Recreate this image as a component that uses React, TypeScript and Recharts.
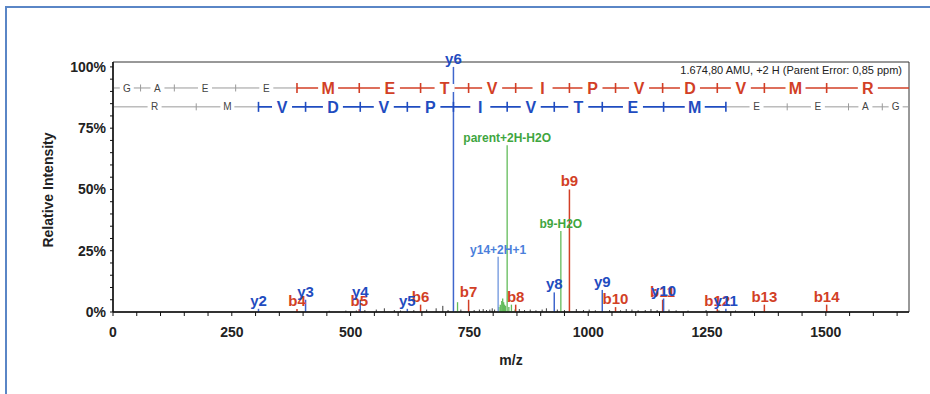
import React from "react";
import {
  ComposedChart,
  Scatter,
  XAxis,
  YAxis,
  ErrorBar,
  ReferenceArea,
  ReferenceLine,
} from "recharts";

const X_MAX = 1675;
const Y_MAX = 102;

const X_LABELS = [0, 250, 500, 750, 1000, 1250, 1500];
const Y_LABELS = [0, 25, 50, 75, 100];

// peptide read left to right for b ions, reversed for y ions
const B_SEQ = ["G", "A", "E", "E", "M", "E", "T", "V", "I", "P", "V", "D", "V", "M", "R"];
const B_IONS = [58.03, 129.07, 258.11, 387.15, 518.19, 647.24, 748.28, 847.35, 960.44, 1057.49, 1156.56, 1271.59, 1370.66, 1501.7];
const Y_SEQ = ["R", "M", "V", "D", "V", "P", "I", "V", "T", "E", "M", "E", "E", "A", "G"];
const Y_IONS = [175.12, 306.16, 405.23, 520.26, 619.33, 716.38, 829.46, 928.53, 1029.58, 1158.62, 1289.66, 1418.7, 1547.75, 1618.78];

// matched b ions from b4 on, y ions from y2 to y11
const B_FIRST = 3;
const Y_FIRST = 1;
const Y_LAST = 10;
const B_LEVEL = 91.4;
const Y_LEVEL = 83.7;

const B_LABELS = ["b4", "b5", "b6", "b7", "b8", "b9", "b10", "b11", "b12", "b13", "b14"];
const B_MZ = [387.15, 518.19, 647.24, 748.28, 847.35, 960.44, 1057.49, 1156.56, 1271.59, 1370.66, 1501.7];
const B_INT = [1.2, 1.2, 3, 5, 3, 50, 2, 5, 1.2, 3, 3];

const Y_ION_LABELS = ["y2", "y3", "y4", "y5", "y6", "y8", "y9", "y10", "y11"];
const Y_MZ = [306.16, 405.23, 520.26, 619.33, 716.38, 928.53, 1029.58, 1158.62, 1289.66];
const Y_INT = [1.3, 5, 5, 1.3, 100, 8, 9, 5.5, 1.3];

const NL_LABELS = ["parent+2H-H2O", "b9-H2O"];
const NL_MZ = [829.4, 942.4];
const NL_INT = [68, 33];

const Y14_LABELS = ["y14+2H+1"];
const Y14_MZ = [810.4];
const Y14_INT = [22.5];

const NOISE_MZ = [455, 490, 512, 530, 554, 571, 592, 605, 633, 660, 680, 694, 705, 732, 760, 771, 779, 786, 793, 798, 803, 855, 866, 878, 890, 903, 912, 935, 950, 975, 990, 1002, 1015, 1045, 1068, 1080, 1092, 1105, 1120, 1132, 1145, 1170, 1185, 1210, 1248, 1275, 1310, 1345];
const NOISE_INT = [0.5, 0.6, 0.6, 0.8, 1, 1.5, 0.8, 0.6, 0.8, 1, 1.5, 2.5, 0.8, 1, 0.8, 1, 1.2, 0.8, 1, 1.5, 1, 1.2, 0.8, 1, 0.7, 1, 1.5, 1, 0.8, 1.2, 0.8, 1, 0.7, 0.8, 0.7, 1.2, 1, 0.7, 0.8, 1.2, 0.8, 1, 0.7, 0.6, 0.8, 0.7, 0.6, 0.5];

const GREEN_NOISE_MZ = [725, 812, 815, 818, 820, 822, 824, 826, 833, 838.4, 846];
const GREEN_NOISE_INT = [4, 2, 3, 4.5, 5.5, 4, 3, 2.5, 2, 3, 1];

const RED = "#d23f26";
const BLUE = "#1f4cc0";
const BLUE_LINE = "#3f66cc";
const LIGHT_BLUE = "#4b7fdb";
const GREEN = "#3fa63f";
const GREEN_LINE = "#62bb5a";
const GRAY = "#9a9a9a";
const FONT = "'Liberation Sans', Arial, sans-serif";

const peaks = (mz: number[], int: number[], labels?: string[]) =>
  mz.map((m, i) => ({ mz: m, v: int[i], label: labels ? labels[i] : "", err: [int[i], 0] }));

const bPeaks = peaks(B_MZ, B_INT, B_LABELS);
const yPeaks = peaks(Y_MZ, Y_INT, Y_ION_LABELS);
const nlPeaks = peaks(NL_MZ, NL_INT, NL_LABELS);
const y14Peaks = peaks(Y14_MZ, Y14_INT, Y14_LABELS);
const noise = peaks(NOISE_MZ, NOISE_INT);
const greenNoise = peaks(GREEN_NOISE_MZ, GREEN_NOISE_INT);

const bBounds = [0, ...B_IONS, X_MAX];
const yBounds = [0, ...Y_IONS, X_MAX];
const seqLetters = [
  ...B_SEQ.map((res, i) => ({
    mz: (bBounds[i] + bBounds[i + 1]) / 2,
    v: B_LEVEL,
    res,
    color: i > B_FIRST ? RED : "",
  })),
  ...Y_SEQ.map((res, i) => ({
    mz: (yBounds[i] + yBounds[i + 1]) / 2,
    v: Y_LEVEL,
    res,
    color: i > Y_FIRST && i <= Y_LAST ? BLUE : "",
  })),
];
const seqTicks = [
  ...B_IONS.map((mz, i) => ({ mz, v: B_LEVEL, color: i >= B_FIRST ? RED : "" })),
  ...Y_IONS.map((mz, i) => ({ mz, v: Y_LEVEL, color: i >= Y_FIRST && i <= Y_LAST ? BLUE : "" })),
];

const X_TICKS = Array.from({ length: 34 }, (_, i) => i * 50);
const Y_TICKS = Array.from({ length: 21 }, (_, i) => i * 5);

function XTick({ x, y, payload }: any) {
  if (!X_LABELS.includes(payload.value)) return <g />;
  return (
    <text x={x} y={y} dy={19} textAnchor="middle" fontFamily={FONT} fontWeight="bold" fontSize={14} fill="#222">
      {payload.value}
    </text>
  );
}

function YTick({ x, y, payload }: any) {
  if (!Y_LABELS.includes(payload.value)) return <g />;
  return (
    <text x={x - 2} y={y} dy={5} textAnchor="end" fontFamily={FONT} fontWeight="bold" fontSize={14} fill="#222">
      {payload.value}%
    </text>
  );
}

const peakLabel = (color: string, size: number) => (props: any) => {
  const { cx, cy, payload } = props;
  if (!payload.label) return <g />;
  return (
    <text x={cx} y={cy - 3} textAnchor="middle" fontFamily={FONT} fontWeight="bold" fontSize={size} fill={color}>
      {payload.label}
    </text>
  );
};

function LetterShape(props: any) {
  const { cx, cy, payload } = props;
  const on = payload.color !== "";
  const size = on ? 16 : 10;
  const w = on ? 16 : 10;
  return (
    <g>
      <rect x={cx - w / 2 - 2} y={cy - 4} width={w + 4} height={8} fill="#fff" />
      <text
        x={cx}
        y={cy}
        dy={size * 0.36}
        textAnchor="middle"
        fontFamily={FONT}
        fontWeight={on ? "bold" : "normal"}
        fontSize={size}
        fill={on ? payload.color : "#444"}
      >
        {payload.res}
      </text>
    </g>
  );
}

function TickShape(props: any) {
  const { cx, cy, payload } = props;
  const on = payload.color !== "";
  const h = on ? 5 : 3.5;
  return <line x1={cx} x2={cx} y1={cy - h} y2={cy + h} stroke={on ? payload.color : GRAY} strokeWidth={on ? 1.6 : 1} />;
}

const empty = () => <g />;

export default function App() {
  return (
    <div style={{ position: "absolute", left: 0, top: 0, width: 930, height: 394, background: "#fff", overflow: "hidden" }}>
      <div
        style={{
          position: "absolute",
          left: 5,
          top: 6,
          width: 940,
          height: 400,
          borderLeft: "2px solid #5a86c6",
          borderTop: "2px solid #5a86c6",
        }}
      />
      <ComposedChart width={930} height={394} margin={{ top: 62, right: 21, bottom: 52, left: 53 }}>
        <XAxis
          type="number"
          dataKey="mz"
          domain={[0, X_MAX]}
          ticks={X_TICKS}
          interval={0}
          height={30}
          tickSize={4}
          tick={<XTick />}
          axisLine={{ stroke: "#111", strokeWidth: 1.5 }}
          tickLine={{ stroke: "#111" }}
        />
        <YAxis
          type="number"
          dataKey="v"
          domain={[0, Y_MAX]}
          ticks={Y_TICKS}
          interval={0}
          width={60}
          tickSize={3}
          tick={<YTick />}
          axisLine={{ stroke: "#111", strokeWidth: 1.5 }}
          tickLine={{ stroke: "#111" }}
        />
        <ReferenceArea x1={0} x2={X_MAX} y1={0} y2={Y_MAX} fill="none" stroke="#333" strokeWidth={1} ifOverflow="visible" />

        <ReferenceLine segment={[{ x: 0, y: B_LEVEL }, { x: B_IONS[B_FIRST], y: B_LEVEL }]} stroke={GRAY} ifOverflow="visible" />
        <ReferenceLine segment={[{ x: B_IONS[B_FIRST], y: B_LEVEL }, { x: X_MAX, y: B_LEVEL }]} stroke={RED} strokeWidth={1.6} ifOverflow="visible" />
        <ReferenceLine segment={[{ x: 0, y: Y_LEVEL }, { x: Y_IONS[Y_FIRST], y: Y_LEVEL }]} stroke={GRAY} ifOverflow="visible" />
        <ReferenceLine segment={[{ x: Y_IONS[Y_FIRST], y: Y_LEVEL }, { x: Y_IONS[Y_LAST], y: Y_LEVEL }]} stroke={BLUE} strokeWidth={1.6} ifOverflow="visible" />
        <ReferenceLine segment={[{ x: Y_IONS[Y_LAST], y: Y_LEVEL }, { x: X_MAX, y: Y_LEVEL }]} stroke={GRAY} ifOverflow="visible" />

        <Scatter data={seqTicks} shape={TickShape} isAnimationActive={false} />
        <Scatter data={seqLetters} shape={LetterShape} isAnimationActive={false} />

        <Scatter data={noise} shape={empty} isAnimationActive={false}>
          <ErrorBar dataKey="err" direction="y" width={0} stroke="#3a3a3a" strokeWidth={1} />
        </Scatter>
        <Scatter data={greenNoise} shape={empty} isAnimationActive={false}>
          <ErrorBar dataKey="err" direction="y" width={0} stroke={GREEN_LINE} strokeWidth={1.3} />
        </Scatter>
        <Scatter data={y14Peaks} shape={peakLabel(LIGHT_BLUE, 12)} isAnimationActive={false}>
          <ErrorBar dataKey="err" direction="y" width={0} stroke="#6f95de" strokeWidth={1.3} />
        </Scatter>
        <Scatter data={nlPeaks} shape={peakLabel(GREEN, 12)} isAnimationActive={false}>
          <ErrorBar dataKey="err" direction="y" width={0} stroke={GREEN_LINE} strokeWidth={1.3} />
        </Scatter>
        <Scatter data={bPeaks} shape={peakLabel(RED, 15)} isAnimationActive={false}>
          <ErrorBar dataKey="err" direction="y" width={0} stroke={RED} strokeWidth={1.5} />
        </Scatter>
        <Scatter data={yPeaks} shape={peakLabel(BLUE, 15)} isAnimationActive={false}>
          <ErrorBar dataKey="err" direction="y" width={0} stroke={BLUE_LINE} strokeWidth={1.5} />
        </Scatter>
      </ComposedChart>
      <div
        style={{
          position: "absolute",
          right: 28,
          top: 64,
          fontFamily: FONT,
          fontSize: 11,
          color: "#222",
          whiteSpace: "nowrap",
        }}
      >
        1.674,80 AMU, +2 H (Parent Error: 0,85 ppm)
      </div>
      <div
        style={{
          position: "absolute",
          left: 48,
          top: 190,
          transform: "translate(-50%, -50%) rotate(-90deg)",
          fontFamily: FONT,
          fontWeight: "bold",
          fontSize: 14,
          color: "#222",
          whiteSpace: "nowrap",
        }}
      >
        Relative Intensity
      </div>
      <div
        style={{
          position: "absolute",
          left: 511,
          top: 360,
          transform: "translate(-50%, -50%)",
          fontFamily: FONT,
          fontWeight: "bold",
          fontSize: 14,
          color: "#222",
        }}
      >
        m/z
      </div>
    </div>
  );
}
